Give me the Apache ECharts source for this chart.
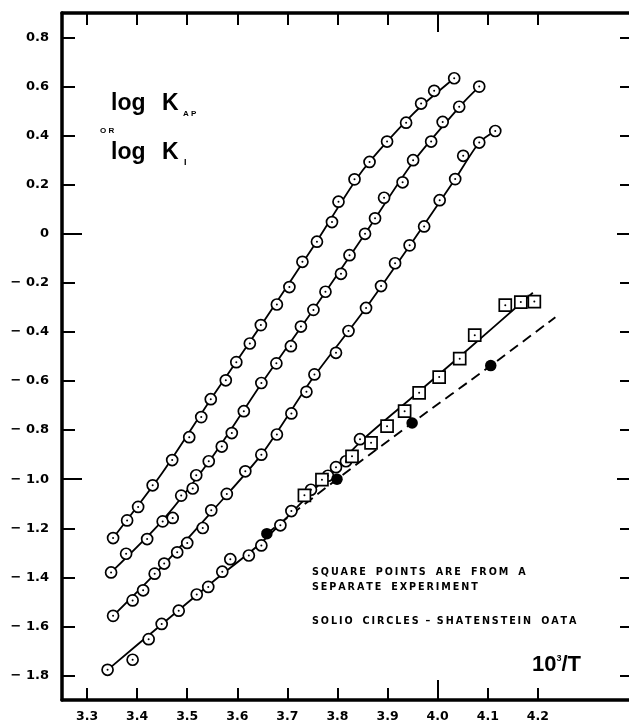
<!DOCTYPE html>
<html><head><meta charset="utf-8">
<script src="https://cdn.jsdelivr.net/npm/echarts@6/dist/echarts.min.js"></script>
<style>html,body{margin:0;padding:0;background:#fff}#c{width:629px;height:723px}</style>
</head><body><div id="c"></div>
<script>
// ---- tick labels ----
const xTicks = [3.3, 3.4, 3.5, 3.6, 3.7, 3.8, 3.9, 4.0, 4.1, 4.2];
const yTicks = [-1.8, -1.6, -1.4, -1.2, -1.0, -0.8, -0.6, -0.4, -0.2, 0, 0.2, 0.4, 0.6, 0.8];
const longXTicks = [4.0];
const longYTicks = [0, -1.0];

// ---- open circles, run 1 (top) ----
const run1X = [3.352,3.380,3.402,3.431,3.470,3.504,3.528,3.547,3.577,3.598,3.625,3.647,3.679,3.704,3.730,3.759,3.789,3.802,3.834,3.864,3.899,3.937,3.967,3.993,4.033];
const run1Y = [-1.240,-1.168,-1.113,-1.025,-0.922,-0.829,-0.747,-0.674,-0.597,-0.523,-0.447,-0.372,-0.288,-0.217,-0.114,-0.032,0.048,0.131,0.222,0.293,0.376,0.453,0.531,0.583,0.634];
// ---- run 2 ----
const run2X = [3.348,3.378,3.420,3.451,3.471,3.488,3.511,3.518,3.543,3.569,3.589,3.613,3.648,3.678,3.707,3.727,3.752,3.776,3.807,3.824,3.855,3.875,3.893,3.930,3.951,3.987,4.010,4.043,4.083];
const run2Y = [-1.380,-1.304,-1.244,-1.172,-1.158,-1.067,-1.038,-0.984,-0.927,-0.867,-0.812,-0.723,-0.608,-0.528,-0.458,-0.378,-0.310,-0.236,-0.163,-0.087,0.000,0.063,0.147,0.210,0.300,0.376,0.456,0.518,0.600];
// ---- run 3 ----
const run3X = [3.352,3.391,3.412,3.435,3.454,3.480,3.500,3.531,3.548,3.579,3.616,3.648,3.679,3.708,3.738,3.754,3.797,3.822,3.857,3.887,3.915,3.944,3.973,4.004,4.035,4.051,4.083,4.115];
const run3Y = [-1.557,-1.494,-1.453,-1.385,-1.344,-1.298,-1.260,-1.199,-1.127,-1.060,-0.968,-0.900,-0.818,-0.732,-0.644,-0.573,-0.485,-0.396,-0.302,-0.213,-0.120,-0.047,0.030,0.137,0.223,0.318,0.372,0.419];
// ---- run 4 (bottom) ----
const run4X = [3.341,3.391,3.423,3.449,3.483,3.519,3.542,3.570,3.586,3.623,3.648,3.686,3.708,3.747,3.781,3.797,3.817,3.845];
const run4Y = [-1.777,-1.736,-1.652,-1.590,-1.536,-1.470,-1.439,-1.377,-1.326,-1.311,-1.270,-1.188,-1.130,-1.043,-0.986,-0.951,-0.927,-0.837];
// ---- square points (separate experiment) ----
const squareX = [3.734,3.769,3.829,3.867,3.899,3.934,3.963,4.003,4.044,4.074,4.135,4.166,4.193];
const squareY = [-1.066,-1.002,-0.907,-0.852,-0.784,-0.723,-0.648,-0.584,-0.509,-0.413,-0.291,-0.278,-0.276];
// ---- solid circles (Shatenstein data) ----
const solidX = [3.659,3.799,3.949,4.106];
const solidY = [-1.222,-1.000,-0.771,-0.537];

// ---- drawn curves ----
const fit1X = [3.352,3.45,3.55,3.65,3.75,3.85,3.95,4.033];
const fit1Y = [-1.240,-0.975,-0.665,-0.365,-0.058,0.258,0.487,0.634];
const fit2X = [3.348,3.45,3.55,3.65,3.75,3.85,3.95,4.05,4.083];
const fit2Y = [-1.380,-1.170,-0.910,-0.605,-0.315,-0.015,0.290,0.532,0.600];
const fit3X = [3.352,3.45,3.55,3.65,3.75,3.85,3.95,4.035,4.083,4.115];
const fit3Y = [-1.557,-1.355,-1.130,-0.895,-0.590,-0.321,-0.031,0.223,0.372,0.419];
const fit4X = [3.341,3.45,3.55,3.65,3.75,3.85,3.95,4.05,4.19];
const fit4Y = [-1.777,-1.590,-1.420,-1.255,-1.050,-0.840,-0.665,-0.490,-0.240];
const dashX = [3.659,3.799,3.949,4.106,4.235];
const dashY = [-1.222,-1.000,-0.771,-0.537,-0.340];

const zip = (xs, ys) => xs.map((x, i) => [x, ys[i]]);

const FONT = '"Liberation Sans", Arial, sans-serif';
const TICKFONT = '"DejaVu Sans", sans-serif';
const GRID = {left: 62, top: 13, width: 567, height: 687};
const XMIN = 3.25, XMAX = 4.382, YMIN = -1.9, YMAX = 0.9;

function fmtY(v) {
  if (Math.abs(v) < 1e-9) return '0';
  const a = Math.abs(v).toFixed(1);
  return v < 0 ? '\u2212 ' + a : a;
}
function sp(s) { return s.split('').join('\u2009'); }

function xAxisCfg(grid, pos, ticks, len, showLine, showLabel) {
  return {
    type: 'value', gridIndex: grid, position: pos, min: XMIN, max: XMAX,
    axisLine: {show: showLine, onZero: false, lineStyle: {color: '#000', width: 3.5}},
    axisTick: {show: true, inside: true, length: len, customValues: ticks, lineStyle: {color: '#000', width: 2}},
    axisLabel: {show: showLabel, customValues: ticks, formatter: v => v.toFixed(1), color: '#000',
      fontFamily: TICKFONT, fontWeight: 'bold', fontSize: 12.5, margin: 10},
    splitLine: {show: false}
  };
}
function yAxisCfg(grid, pos, ticks, len, showLine, showLabel) {
  return {
    type: 'value', gridIndex: grid, position: pos, min: YMIN, max: YMAX,
    axisLine: {show: showLine, onZero: false, lineStyle: {color: '#000', width: 3.5}},
    axisTick: {show: true, inside: true, length: len, customValues: ticks, lineStyle: {color: '#000', width: 2}},
    axisLabel: {show: showLabel, customValues: ticks, formatter: fmtY, color: '#000',
      fontFamily: TICKFONT, fontWeight: 'bold', fontSize: 13, margin: 13},
    splitLine: {show: false}
  };
}

const lineStyleSolid = {color: '#000', width: 1.8};
function fitSeries(xs, ys, dashed) {
  return {
    type: 'line', xAxisIndex: 0, yAxisIndex: 0, data: zip(xs, ys), smooth: 0.25,
    showSymbol: false, symbol: 'none', silent: true, z: 2,
    lineStyle: dashed ? {color: '#000', width: 1.9, type: [10, 6]} : lineStyleSolid
  };
}
function openSeries(name, xs, ys, symbol, size) {
  return [{
    name, type: 'scatter', data: zip(xs, ys), symbol, symbolSize: size, z: 3,
    itemStyle: {color: '#fff', borderColor: '#000', borderWidth: 1.7, opacity: 1}
  }, {
    type: 'scatter', data: zip(xs, ys), symbol: 'circle', symbolSize: 2, z: 4,
    itemStyle: {color: '#000', opacity: 1}
  }];
}

const chart = echarts.init(document.getElementById('c'), null, {renderer: 'canvas'});
const txt = (x, y, text, font) => ({type: 'text', x, y, style: {text, font, fill: '#000', verticalAlign: 'middle', textVerticalAlign: 'middle'}});
chart.setOption({
  animation: false,
  backgroundColor: '#fff',
  grid: [
    Object.assign({outerBoundsMode: 'none', containLabel: false}, GRID),
    Object.assign({outerBoundsMode: 'none', containLabel: false}, GRID)
  ],
  xAxis: [
    xAxisCfg(0, 'bottom', xTicks, 12, true, true),
    xAxisCfg(0, 'top', xTicks, 12, true, false),
    xAxisCfg(1, 'bottom', longXTicks, 20, false, false),
    xAxisCfg(1, 'top', longXTicks, 19, false, false)
  ],
  yAxis: [
    yAxisCfg(0, 'left', yTicks, 13, true, true),
    yAxisCfg(0, 'right', yTicks, 9, false, false),
    yAxisCfg(1, 'left', longYTicks, 20, false, false),
    yAxisCfg(1, 'right', longYTicks, 12, false, false)
  ],
  series: [
    fitSeries(fit1X, fit1Y),
    fitSeries(fit2X, fit2Y),
    fitSeries(fit3X, fit3Y),
    fitSeries(fit4X, fit4Y),
    fitSeries(dashX, dashY, true),
    ...openSeries('run 1', run1X, run1Y, 'circle', 11),
    ...openSeries('run 2', run2X, run2Y, 'circle', 11),
    ...openSeries('run 3', run3X, run3Y, 'circle', 11),
    ...openSeries('run 4', run4X, run4Y, 'circle', 11),
    ...openSeries('squares', squareX, squareY, 'rect', 12),
    {name: 'Shatenstein', type: 'scatter', data: zip(solidX, solidY), symbol: 'circle', symbolSize: 11.5, z: 5,
      itemStyle: {color: '#000', opacity: 1}}
  ],
  graphic: [
    txt(111, 104, 'log', 'bold 23px ' + FONT),
    txt(162, 104, 'K', 'bold 23px ' + FONT),
    txt(183, 114, 'A P', 'bold 8px ' + FONT),
    txt(100, 131, 'O R', 'bold 8px ' + FONT),
    txt(111, 153, 'log', 'bold 23px ' + FONT),
    txt(162, 153, 'K', 'bold 23px ' + FONT),
    txt(184, 163, 'I', 'bold 9px ' + FONT),
    txt(312, 572, sp('SQUARE') + '   ' + sp('POINTS') + '   ' + sp('ARE') + '   ' + sp('FROM') + '   ' + sp('A'), 'bold 9.6px "DejaVu Sans", sans-serif'),
    txt(312, 587, sp('SEPARATE') + '   ' + sp('EXPERIMENT'), 'bold 9.6px "DejaVu Sans", sans-serif'),
    txt(312, 621, sp('SOLIO') + '   ' + sp('CIRCLES') + '  \u2013  ' + sp('SHATENSTEIN') + '   ' + sp('OATA'), 'bold 9.6px "DejaVu Sans", sans-serif'),
    {type: 'text', x: 532, y: 665, style: {
      text: '{n|10}{s|3}{n|/T}', fill: '#000', verticalAlign: 'middle', textVerticalAlign: 'middle',
      rich: {
        n: {font: 'bold 22px ' + FONT, fill: '#000', verticalAlign: 'bottom'},
        s: {font: 'bold 9px ' + FONT, fill: '#000', verticalAlign: 'top'}
      }
    }}
  ]
});
</script>
</body></html>
